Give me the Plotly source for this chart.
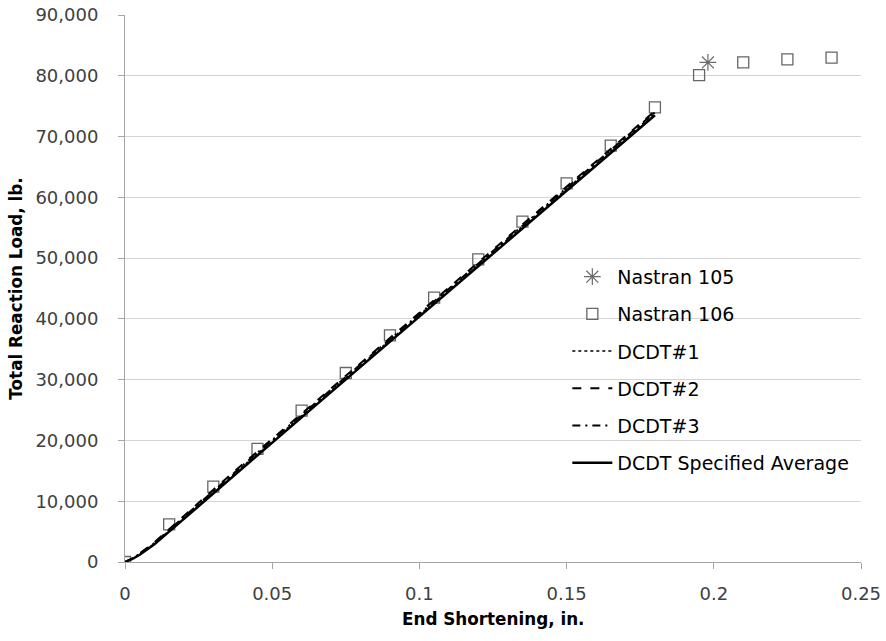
import plotly.graph_objects as go

# Nastran 106 (open squares)
n106_x = [0, 0.015, 0.03, 0.045, 0.06, 0.075, 0.09, 0.105, 0.12, 0.135, 0.15, 0.165, 0.18, 0.195, 0.21, 0.225, 0.24]
n106_y = [0, 6200, 12400, 18600, 24900, 31100, 37300, 43500, 49800, 56000, 62300, 68500, 74800, 80100, 82200, 82700, 83000]

# Nastran 105 (asterisk)
n105_x = [0.198]
n105_y = [82200]

# DCDT test curves
dcdt_x = [0, 0.0025, 0.005, 0.0075, 0.01, 0.015, 0.02, 0.03, 0.04, 0.06, 0.08, 0.10, 0.12, 0.14, 0.16, 0.18]
dcdt1_y = [0, 550, 1300, 2150, 3050, 5150, 7300, 11550, 15750, 24050, 32350, 40650, 48950, 57250, 65550, 73850]
dcdt2_y = [0, 600, 1400, 2300, 3250, 5400, 7600, 11900, 16100, 24400, 32700, 41000, 49300, 57600, 65900, 74200]
dcdt3_y = [0, 580, 1350, 2200, 3150, 5300, 7450, 11700, 15900, 24200, 32500, 40800, 49100, 57400, 65700, 74000]
avg_y = [0, 500, 1200, 2000, 2900, 5000, 7100, 11300, 15500, 23800, 32100, 40400, 48700, 57000, 65300, 73500]

x_ticks = [0, 0.05, 0.1, 0.15, 0.2, 0.25]
x_ticktext = ["0", "0.05", "0.1", "0.15", "0.2", "0.25"]
y_ticks = [0, 10000, 20000, 30000, 40000, 50000, 60000, 70000, 80000, 90000]
y_ticktext = ["0", "10,000", "20,000", "30,000", "40,000", "50,000", "60,000", "70,000", "80,000", "90,000"]

x_title = "End Shortening, in."
y_title = "Total Reaction Load, lb."

FONT = "'DejaVu Sans', sans-serif"
GRAY = "#404040"

fig = go.Figure()
fig.add_trace(go.Scatter(x=n105_x, y=n105_y, mode="markers", name="Nastran 105",
                         legendgroup="a",
                         marker=dict(symbol="asterisk-open", size=14, color="#6b6b6b",
                                     line=dict(width=1.2, color="#6b6b6b"))))
fig.add_trace(go.Scatter(x=n106_x, y=n106_y, mode="markers", name="Nastran 106",
                         legendgroup="b",
                         marker=dict(symbol="square-open", size=11, color="#666666",
                                     line=dict(width=1.3, color="#666666"))))
fig.add_trace(go.Scatter(x=dcdt_x, y=dcdt1_y, mode="lines", name="DCDT#1",
                         legendgroup="c",
                         line=dict(color="black", width=1.5, dash="dot")))
fig.add_trace(go.Scatter(x=dcdt_x, y=dcdt2_y, mode="lines", name="DCDT#2",
                         legendgroup="d",
                         line=dict(color="black", width=2, dash="dash")))
fig.add_trace(go.Scatter(x=dcdt_x, y=dcdt3_y, mode="lines", name="DCDT#3",
                         legendgroup="e",
                         line=dict(color="black", width=2, dash="8px,5px,2px,5px")))
fig.add_trace(go.Scatter(x=dcdt_x, y=avg_y, mode="lines", name="DCDT Specified Average",
                         legendgroup="f",
                         line=dict(color="black", width=2.5)))

fig.update_layout(
    width=886, height=641,
    margin=dict(l=125, r=25, t=15, b=79),
    paper_bgcolor="white", plot_bgcolor="white",
    font=dict(family=FONT, size=18, color=GRAY),
    showlegend=True,
    legend=dict(x=0.601, y=0.556, xanchor="left", yanchor="top",
                bgcolor="rgba(255,255,255,0)", borderwidth=0,
                font=dict(family=FONT, size=19, color="black"),
                tracegroupgap=9.5, itemwidth=40),
    xaxis=dict(range=[0, 0.25], tickvals=x_ticks, ticktext=x_ticktext,
               showgrid=False, zeroline=False, showline=True, linecolor="#a6a6a6",
               linewidth=1, ticks="outside", ticklen=6, tickcolor="#a6a6a6",
               ticklabelstandoff=9, automargin=False,
               tickfont=dict(family=FONT, size=18, color=GRAY)),
    yaxis=dict(range=[0, 90000], tickvals=y_ticks, ticktext=y_ticktext,
               showgrid=True, gridcolor="#d4d4d4", gridwidth=1.2, zeroline=False,
               showline=True, linecolor="#a6a6a6", linewidth=1, ticks="outside",
               ticklen=6, tickcolor="#a6a6a6",
               ticklabelstandoff=16, automargin=False,
               tickfont=dict(family=FONT, size=18, color=GRAY),
               title=dict(text="<b>" + y_title + "</b>",
                          font=dict(family=FONT, size=16.8, color="black"), standoff=8)),
    annotations=[dict(text="<b>" + x_title + "</b>", xref="paper", yref="paper",
                      x=0.5, y=0, xanchor="center", yanchor="middle", yshift=-57,
                      showarrow=False, font=dict(family=FONT, size=16.8, color="black"))],
)

fig.write_html("out.html")
